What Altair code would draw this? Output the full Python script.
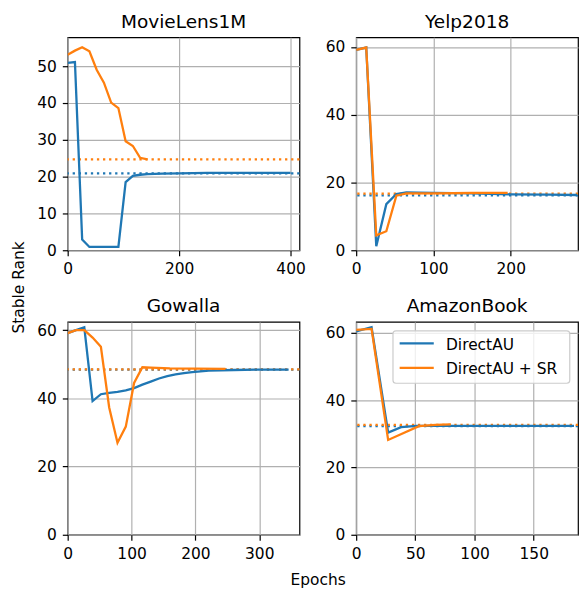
import altair as alt
import pandas as pd

METHODS = ["DirectAU", "DirectAU + SR"]
COLORS = ["#1f77b4", "#ff7f0e"]
FONT = "DejaVu Sans"

# ---- MovieLens1M ----
ml_ep_a = [0, 13, 26, 39, 52, 65, 78, 91, 104, 117, 130, 143, 170, 200, 250, 300, 350, 400]
ml_rk_a = [50.9, 51.1, 2.9, 0.9, 0.9, 0.9, 0.9, 0.9, 18.5, 20.2, 20.5, 20.7, 20.8, 20.9, 21.0, 21.0, 21.0, 21.0]
ml_ep_b = [0, 13, 26, 39, 52, 65, 78, 91, 104, 117, 130, 143]
ml_rk_b = [53.1, 54.2, 55.1, 54.0, 49.0, 45.5, 40.1, 38.6, 29.6, 28.3, 25.1, 24.7]
ml_base = [20.9, 24.7]

# ---- Yelp2018 ----
ye_ep_a = [0, 13, 26, 39, 52, 65, 80, 100, 150, 200, 250, 286]
ye_rk_a = [59.1, 59.8, 1.2, 13.6, 16.6, 17.1, 17.0, 16.9, 16.8, 16.5, 16.4, 16.3]
ye_ep_b = [0, 13, 26, 39, 52, 65, 100, 150, 196]
ye_rk_b = [59.1, 59.8, 4.4, 5.6, 16.1, 16.8, 16.8, 16.9, 16.9]
ye_base = [16.2, 16.7]

# ---- Gowalla ----
go_ep_a = [0, 13, 26, 39, 52, 65, 78, 91, 104, 117, 130, 143, 156, 169, 182, 195, 221, 260, 300, 346]
go_rk_a = [59.1, 60.0, 60.8, 39.2, 41.2, 41.6, 41.9, 42.3, 43.0, 44.0, 44.9, 45.8, 46.5, 47.0, 47.4, 47.7, 48.1, 48.3, 48.4, 48.4]
go_ep_b = [0, 13, 26, 39, 52, 65, 78, 91, 104, 117, 130, 160, 200, 247]
go_rk_b = [59.1, 60.0, 60.0, 57.8, 55.1, 37.3, 27.0, 31.7, 44.5, 49.1, 49.0, 48.8, 48.7, 48.6]
go_base = [48.4, 48.5]

# ---- AmazonBook ----
am_ep_a = [0, 13, 27, 38, 51, 67, 100, 150, 184]
am_rk_a = [60.5, 61.7, 30.4, 32.0, 32.4, 32.4, 32.4, 32.4, 32.4]
am_ep_b = [0, 13, 27, 53, 67, 80]
am_rk_b = [60.9, 61.2, 28.2, 32.3, 32.7, 32.8]
am_base = [32.3, 32.7]

H = 214


def text_layer(label, x, y, size, **kw):
    return alt.Chart(pd.DataFrame({"label": [label]})).mark_text(
        font=FONT, fontSize=size, color="black", **kw
    ).encode(text="label:N", x=alt.value(x), y=alt.value(y))


def panel(title, ep_a, rk_a, ep_b, rk_b, base, xdom, ydom, xticks, yticks, width,
          legend=False, ytitle=False, xtitle=False):
    df = pd.DataFrame({
        "epoch": ep_a + ep_b,
        "rank": rk_a + rk_b,
        "method": [METHODS[0]] * len(ep_a) + [METHODS[1]] * len(ep_b),
    })
    cscale = alt.Scale(domain=METHODS, range=COLORS)
    y = alt.Y("rank:Q", scale=alt.Scale(domain=ydom, nice=False, zero=False),
              axis=alt.Axis(values=yticks, title=None))
    x = alt.X("epoch:Q", scale=alt.Scale(domain=xdom, nice=False, zero=False),
              axis=alt.Axis(values=xticks, title=None))

    layers = []
    for i, b in enumerate(base):
        layers.append(
            alt.Chart(pd.DataFrame({"rank": [b]})).mark_rule(
                color=COLORS[i], strokeWidth=2.3, strokeDash=[2.3, 3.8], strokeCap="butt"
            ).encode(y=y)
        )
    layers.append(
        alt.Chart(df).mark_line(strokeWidth=2.3, clip=True).encode(
            x=x, y=y,
            color=alt.Color("method:N", scale=cscale, legend=None),
            order=alt.Order("epoch:Q"),
        )
    )
    layers.append(text_layer(title, width / 2, -9.5, 18.6, align="center", baseline="alphabetic"))
    if ytitle:
        layers.append(text_layer("Stable Rank", -43.7, 251.3, 15.5, align="center",
                                 baseline="alphabetic", angle=270))
    if xtitle:
        layers.append(text_layer("Epochs", 251.7, H + 50, 15.5, align="center",
                                 baseline="alphabetic"))
    if legend:
        lx = width - 8.3 - 177.7
        layers.append(
            alt.Chart(pd.DataFrame({"k": [0]})).mark_rect(
                fill="white", fillOpacity=0.8, stroke="#cccccc", strokeWidth=1.2, cornerRadius=3
            ).encode(x=alt.value(lx), x2=alt.value(lx + 177.7), y=alt.value(9), y2=alt.value(61.7))
        )
        for i, m in enumerate(METHODS):
            ly = 21.7 + 24.6 * i
            layers.append(
                alt.Chart(pd.DataFrame({"method": [m]})).mark_rule(
                    color=COLORS[i], strokeWidth=2.3
                ).encode(x=alt.value(lx + 6.7), x2=alt.value(lx + 41), y=alt.value(ly))
            )
            layers.append(
                alt.Chart(pd.DataFrame({"method": [m]})).mark_text(
                    font=FONT, fontSize=15.5, color="black", align="left", baseline="alphabetic"
                ).encode(text="method:N", x=alt.value(lx + 53.3), y=alt.value(ly + 6.3))
            )
    return alt.layer(*layers).properties(width=width, height=H)


p1 = panel("MovieLens1M", ml_ep_a, ml_rk_a, ml_ep_b, ml_rk_b, ml_base,
           [0, 416], [0, 57.8], [0, 200, 400], [0, 10, 20, 30, 40, 50], 233, ytitle=True)
p2 = panel("Yelp2018", ye_ep_a, ye_rk_a, ye_ep_b, ye_rk_b, ye_base,
           [0, 287], [0, 62.8], [0, 100, 200], [0, 20, 40, 60], 223)
p3 = panel("Gowalla", go_ep_a, go_rk_a, go_ep_b, go_rk_b, go_base,
           [0, 363], [0, 62.4], [0, 100, 200, 300], [0, 20, 40, 60], 233, xtitle=True)
p4 = panel("AmazonBook", am_ep_a, am_rk_a, am_ep_b, am_rk_b, am_base,
           [0, 187.4], [0, 63.3], [0, 50, 100, 150], [0, 20, 40, 60], 223, legend=True)

chart = alt.concat(p1, p2, p3, p4, columns=2, spacing={"row": 72, "column": 57}, bounds="flush").resolve_scale(
    x="independent", y="independent", color="independent"
).properties(
    padding={"left": 3, "top": 2, "right": 0, "bottom": 0}
).configure_view(
    stroke="black", strokeWidth=1.2
).configure_axis(
    grid=True, gridColor="#b0b0b0", gridWidth=1.2, gridOpacity=1,
    domain=False, ticks=True, tickColor="black", tickWidth=1.2, tickSize=5.4,
    labelFont=FONT, labelFontSize=15.5, labelColor="black", labelPadding=6,
    labelFlush=False, labelOverlap=False,
)

chart.save("out.html", embed_options={"renderer": "svg", "actions": False})
